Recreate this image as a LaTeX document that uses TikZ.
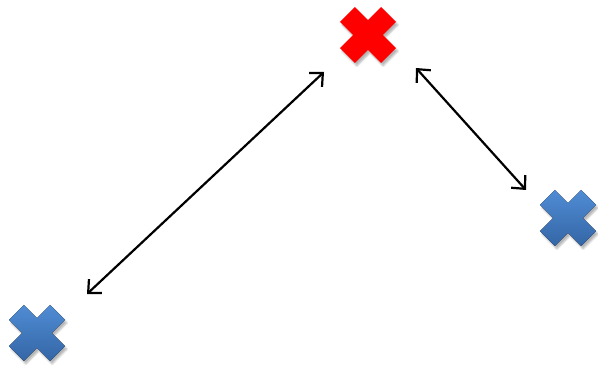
\documentclass[tikz,border=0pt]{standalone}
\usetikzlibrary{arrows.meta,shadows.blur}
\definecolor{markred}{RGB}{255,0,0}
\definecolor{markblueTop}{RGB}{80,140,212}
\definecolor{markblueBot}{RGB}{52,102,166}
% cross mark around a named coordinate
\newcommand{\crossmark}[2]{%
  \fill[#2, shift={(#1)}] (13.15,28) -- (0,14.85) -- (-13.15,28) -- (-28,13.15)
    -- (-14.85,0) -- (-28,-13.15) -- (-13.15,-28) -- (0,-14.85) -- (13.15,-28)
    -- (28,-13.15) -- (14.85,0) -- (28,13.15) -- cycle;}
\begin{document}
\begin{tikzpicture}[
  x=1pt, y=-1pt,
  redmark/.style={markred, blur shadow={shadow xshift=2pt, shadow yshift=-3pt, shadow opacity=30, shadow blur steps=6}},
  bluemark/.style={top color=markblueTop, bottom color=markblueBot, blur shadow={shadow xshift=2pt, shadow yshift=-3pt, shadow opacity=30, shadow blur steps=6}},
  link/.style={{Straight Barb[length=10pt,width=19pt]}-{Straight Barb[length=10pt,width=19pt]}, line width=2.2pt, black}
]
\useasboundingbox (0,0) rectangle (598,366);

% Positions
\coordinate (top) at (368,35);
\coordinate (right) at (568,218);
\coordinate (left) at (37,333);

% Marks
\crossmark{top}{redmark}
\crossmark{right}{bluemark}
\crossmark{left}{bluemark}

% Distances
\draw[link] ([shift={(50,-39)}]left) -- ([shift={(-44,37)}]top);
\draw[link] ([shift={(48,33)}]top) -- ([shift={(-42,-28)}]right);
\end{tikzpicture}
\end{document}
